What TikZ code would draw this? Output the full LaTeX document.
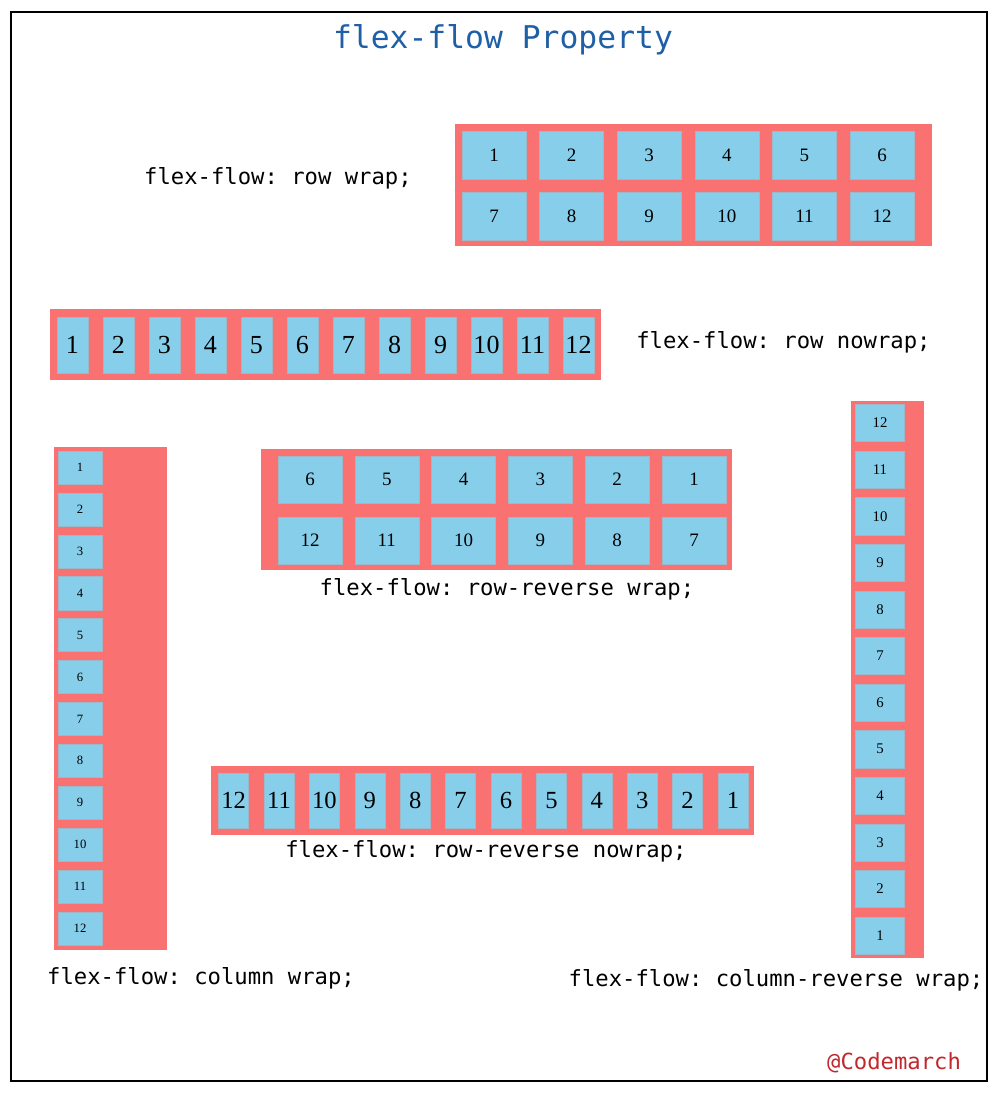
\documentclass[tikz,border=0pt]{standalone}
\usepackage{fontspec}
\setmainfont{Liberation Serif}
\newfontfamily\codefont{DejaVu Sans Mono}
\usepackage{tikz}
\usepackage{xcolor}
\usetikzlibrary{positioning}
\definecolor{FlexRed}{HTML}{F97171}
\definecolor{ItemBlue}{HTML}{87CEEB}
\definecolor{ItemEdge}{HTML}{9DB9C9}
\definecolor{TitleBlue}{HTML}{1F5FA6}
\definecolor{MarkRed}{HTML}{C0282D}
\frenchspacing

\tikzset{
  container/.style={fill=FlexRed},
  flexitem/.style={fill=ItemBlue, draw=ItemEdge, line width=0.3pt, inner sep=0pt, text=black},
  codelabel/.style={font=\codefont\fontsize{15.8}{18}\selectfont, text=black, inner sep=0pt},
}

\begin{document}
\begin{tikzpicture}[x=0.025cm, y=-0.025cm]
    \useasboundingbox (0,0) rectangle (1000,1093);

    % Frame
    \draw[line width=1pt] (11,12) rectangle (987,1081);

    % Title
    \node[font=\codefont\fontsize{22.3}{26}\selectfont, TitleBlue] (title) at (503,40) {flex-flow Property};

    % row wrap
    \fill[container] (455,124) rectangle (932,246);
    \foreach \i in {1,...,12} {
        \pgfmathtruncatemacro{\col}{mod(\i-1,6)}
        \pgfmathtruncatemacro{\row}{div(\i-1,6)}
        \node[flexitem, minimum width=1.6cm, minimum height=1.2cm, font=\fontsize{13.5}{15}\selectfont]
            (rw\i) at ({494+77.6*\col},{155+61*\row}) {\i};
    }
    \node[codelabel] (rwlabel) at (278,178) {flex-flow: row wrap;};

    % row nowrap
    \fill[container] (50,309) rectangle (601,380);
    \foreach \i in {1,...,12}
        \node[flexitem, minimum width=0.775cm, minimum height=1.4cm, font=\fontsize{18.5}{20}\selectfont]
            (rn\i) at ({72.5+46*(\i-1)},345) {\i};
    \node[codelabel] (rnlabel) at (783.5,342) {flex-flow: row nowrap;};

    % column wrap
    \fill[container] (54,447) rectangle (167,950);
    \foreach \i in {1,...,12}
        \node[flexitem, minimum width=1.1cm, minimum height=0.825cm, font=\fontsize{9}{10}\selectfont]
            (cw\i) at (80,{467.5+41.9*(\i-1)}) {\i};
    \node[codelabel] (cwlabel) at (201,978) {flex-flow: column wrap;};

    % row-reverse wrap
    \fill[container] (261,449) rectangle (732,570);
    \foreach \i in {1,...,12} {
        \pgfmathtruncatemacro{\col}{mod(\i-1,6)}
        \pgfmathtruncatemacro{\row}{div(\i-1,6)}
        \node[flexitem, minimum width=1.6cm, minimum height=1.175cm, font=\fontsize{13.5}{15}\selectfont]
            (rrw\i) at ({694-76.8*\col},{479.5+61*\row}) {\i};
    }
    \node[codelabel] (rrwlabel) at (507,589) {flex-flow: row-reverse wrap;};

    % column-reverse wrap
    \fill[container] (851,401) rectangle (924,958);
    \foreach \i in {1,...,12}
        \node[flexitem, minimum width=1.225cm, minimum height=0.925cm, font=\fontsize{10.5}{12}\selectfont]
            (crw\i) at (880,{935.6-46.6*(\i-1)}) {\i};
    \node[codelabel] (crwlabel) at (776,980) {flex-flow: column-reverse wrap;};

    % row-reverse nowrap
    \fill[container] (211,766) rectangle (754,835);
    \foreach \i in {1,...,12}
        \node[flexitem, minimum width=0.75cm, minimum height=1.375cm, font=\fontsize{17.5}{19}\selectfont]
            (rrn\i) at ({733-45.4*(\i-1)},800.5) {\i};
    \node[codelabel] (rrnlabel) at (486,851) {flex-flow: row-reverse nowrap;};

    % Credit
    \node[codelabel, MarkRed] (credit) at (894,1063) {@Codemarch};

\end{tikzpicture}
\end{document}
